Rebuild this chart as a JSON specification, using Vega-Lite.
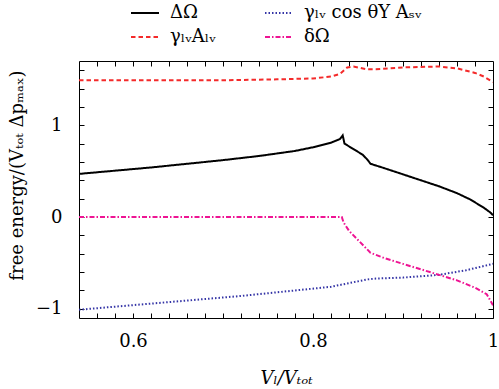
{
  "$schema": "https://vega.github.io/schema/vega-lite/v6.json",
  "width": 414,
  "height": 257,
  "autosize": {"type": "none"},
  "padding": {"left": 79, "top": 61, "right": 6, "bottom": 71},
  "background": "white",
  "config": {
    "view": {"stroke": "black", "strokeWidth": 1},
    "font": "DejaVu Serif",
    "axis": {"grid": false, "domainColor": "black", "labelColor": "black", "titleColor": "black", "labelFont": "DejaVu Serif", "titleFont": "DejaVu Serif", "labelFontSize": 18, "titleFontSize": 18, "titleFontWeight": "normal"}
  },
  "data": {"values": [
    {"x": 0.54, "y": 0.47, "s": "ΔΩ"},
    {"x": 0.58, "y": 0.505, "s": "ΔΩ"},
    {"x": 0.62, "y": 0.54, "s": "ΔΩ"},
    {"x": 0.66, "y": 0.58, "s": "ΔΩ"},
    {"x": 0.70, "y": 0.62, "s": "ΔΩ"},
    {"x": 0.74, "y": 0.665, "s": "ΔΩ"},
    {"x": 0.78, "y": 0.72, "s": "ΔΩ"},
    {"x": 0.80, "y": 0.76, "s": "ΔΩ"},
    {"x": 0.82, "y": 0.81, "s": "ΔΩ"},
    {"x": 0.83, "y": 0.85, "s": "ΔΩ"},
    {"x": 0.833, "y": 0.89, "s": "ΔΩ"},
    {"x": 0.835, "y": 0.80, "s": "ΔΩ"},
    {"x": 0.845, "y": 0.74, "s": "ΔΩ"},
    {"x": 0.855, "y": 0.68, "s": "ΔΩ"},
    {"x": 0.86, "y": 0.63, "s": "ΔΩ"},
    {"x": 0.864, "y": 0.58, "s": "ΔΩ"},
    {"x": 0.88, "y": 0.53, "s": "ΔΩ"},
    {"x": 0.90, "y": 0.465, "s": "ΔΩ"},
    {"x": 0.92, "y": 0.40, "s": "ΔΩ"},
    {"x": 0.94, "y": 0.335, "s": "ΔΩ"},
    {"x": 0.96, "y": 0.26, "s": "ΔΩ"},
    {"x": 0.975, "y": 0.19, "s": "ΔΩ"},
    {"x": 0.99, "y": 0.10, "s": "ΔΩ"},
    {"x": 0.997, "y": 0.05, "s": "ΔΩ"},
    {"x": 1.0, "y": 0.02, "s": "ΔΩ"},

    {"x": 0.54, "y": 1.49, "s": "γₗᵥAₗᵥ"},
    {"x": 0.70, "y": 1.49, "s": "γₗᵥAₗᵥ"},
    {"x": 0.76, "y": 1.50, "s": "γₗᵥAₗᵥ"},
    {"x": 0.80, "y": 1.51, "s": "γₗᵥAₗᵥ"},
    {"x": 0.82, "y": 1.53, "s": "γₗᵥAₗᵥ"},
    {"x": 0.83, "y": 1.56, "s": "γₗᵥAₗᵥ"},
    {"x": 0.838, "y": 1.63, "s": "γₗᵥAₗᵥ"},
    {"x": 0.845, "y": 1.64, "s": "γₗᵥAₗᵥ"},
    {"x": 0.86, "y": 1.61, "s": "γₗᵥAₗᵥ"},
    {"x": 0.87, "y": 1.61, "s": "γₗᵥAₗᵥ"},
    {"x": 0.90, "y": 1.63, "s": "γₗᵥAₗᵥ"},
    {"x": 0.94, "y": 1.64, "s": "γₗᵥAₗᵥ"},
    {"x": 0.96, "y": 1.62, "s": "γₗᵥAₗᵥ"},
    {"x": 0.98, "y": 1.57, "s": "γₗᵥAₗᵥ"},
    {"x": 0.99, "y": 1.53, "s": "γₗᵥAₗᵥ"},
    {"x": 1.0, "y": 1.47, "s": "γₗᵥAₗᵥ"},

    {"x": 0.54, "y": -1.01, "s": "γₗᵥ cos θY Aₛᵥ"},
    {"x": 0.60, "y": -0.96, "s": "γₗᵥ cos θY Aₛᵥ"},
    {"x": 0.66, "y": -0.91, "s": "γₗᵥ cos θY Aₛᵥ"},
    {"x": 0.72, "y": -0.86, "s": "γₗᵥ cos θY Aₛᵥ"},
    {"x": 0.78, "y": -0.80, "s": "γₗᵥ cos θY Aₛᵥ"},
    {"x": 0.82, "y": -0.76, "s": "γₗᵥ cos θY Aₛᵥ"},
    {"x": 0.84, "y": -0.72, "s": "γₗᵥ cos θY Aₛᵥ"},
    {"x": 0.86, "y": -0.68, "s": "γₗᵥ cos θY Aₛᵥ"},
    {"x": 0.87, "y": -0.67, "s": "γₗᵥ cos θY Aₛᵥ"},
    {"x": 0.90, "y": -0.66, "s": "γₗᵥ cos θY Aₛᵥ"},
    {"x": 0.94, "y": -0.63, "s": "γₗᵥ cos θY Aₛᵥ"},
    {"x": 0.97, "y": -0.58, "s": "γₗᵥ cos θY Aₛᵥ"},
    {"x": 1.0, "y": -0.51, "s": "γₗᵥ cos θY Aₛᵥ"},

    {"x": 0.54, "y": 0.0, "s": "δΩ"},
    {"x": 0.832, "y": 0.0, "s": "δΩ"},
    {"x": 0.834, "y": -0.06, "s": "δΩ"},
    {"x": 0.84, "y": -0.15, "s": "δΩ"},
    {"x": 0.85, "y": -0.25, "s": "δΩ"},
    {"x": 0.86, "y": -0.35, "s": "δΩ"},
    {"x": 0.864, "y": -0.39, "s": "δΩ"},
    {"x": 0.88, "y": -0.45, "s": "δΩ"},
    {"x": 0.90, "y": -0.51, "s": "δΩ"},
    {"x": 0.92, "y": -0.57, "s": "δΩ"},
    {"x": 0.94, "y": -0.63, "s": "δΩ"},
    {"x": 0.96, "y": -0.69, "s": "δΩ"},
    {"x": 0.98, "y": -0.77, "s": "δΩ"},
    {"x": 0.993, "y": -0.84, "s": "δΩ"},
    {"x": 1.0, "y": -0.96, "s": "δΩ"}
  ]},
  "resolve": {"axis": {"x": "independent", "y": "independent"}},
  "layer": [
    {
      "mark": {"type": "line", "strokeWidth": 2, "clip": true},
      "encoding": {
        "x": {"field": "x", "type": "quantitative", "scale": {"domain": [0.54, 1.0], "nice": false, "zero": false},
          "axis": {"orient": "bottom", "offset": -5, "title": "Vₗ/Vₜₒₜ", "titleFontStyle": "italic", "titlePadding": 19, "values": [0.56,0.58,0.6,0.62,0.64,0.66,0.68,0.7,0.72,0.74,0.76,0.78,0.8,0.82,0.84,0.86,0.88,0.9,0.92,0.94,0.96,0.98,1.0], "labelExpr": "datum.value == 0.6 ? '0.6' : datum.value == 0.8 ? '0.8' : datum.value == 1 ? '1' : ''", "ticks": true, "tickSize": 5, "tickColor": "black", "tickWidth": 1, "labelPadding": 14, "domain": false, "labelFlush": false, "labelOverlap": false}},
        "y": {"field": "y", "type": "quantitative", "scale": {"domain": [-1.1, 1.7], "nice": false, "zero": false},
          "axis": {"orient": "left", "offset": -5, "title": "free energy/(Vₜₒₜ Δpₘₐₓ)", "titleY": 114, "titleX": -62, "titleBaseline": "alphabetic", "titleAngle": -90, "values": [-1,-0.8,-0.6,-0.4,-0.2,0,0.2,0.4,0.6,0.8,1,1.2,1.4,1.6], "labelExpr": "datum.value == -1 ? '−1' : datum.value == 0 ? '0' : datum.value == 1 ? '1' : ''", "ticks": true, "tickSize": 5, "tickColor": "black", "tickWidth": 1, "labelPadding": 17, "domain": false, "labelFlush": false, "labelOverlap": false}},
        "color": {"field": "s", "type": "nominal", "sort": null,
          "scale": {"domain": ["ΔΩ", "γₗᵥAₗᵥ", "γₗᵥ cos θY Aₛᵥ", "δΩ"], "range": ["#000000", "#f42a2a", "#3434a6", "#ee1493"]},
          "legend": {"title": null, "orient": "none", "legendX": 51, "legendY": -63, "columns": 2, "symbolType": "stroke", "symbolSize": 784, "symbolStrokeWidth": 2, "labelFontSize": 18, "labelFont": "DejaVu Serif", "labelColor": "black", "labelOffset": 10, "columnPadding": 45, "rowPadding": 0, "padding": 0, "labelLimit": 300}},
        "strokeDash": {"field": "s", "type": "nominal", "sort": null,
          "scale": {"domain": ["ΔΩ", "γₗᵥAₗᵥ", "γₗᵥ cos θY Aₛᵥ", "δΩ"], "range": [[1,0],[4.5,3],[1.5,2],[5,2,1.5,2]]},
          "legend": {"title": null, "orient": "none", "legendX": 51, "legendY": -63, "columns": 2, "symbolType": "stroke", "symbolSize": 784, "symbolStrokeWidth": 2, "labelFontSize": 18, "labelFont": "DejaVu Serif", "labelColor": "black", "labelOffset": 10, "columnPadding": 45, "rowPadding": 0, "padding": 0, "labelLimit": 300}}
      }
    },
    {
      "mark": {"type": "line", "opacity": 0},
      "encoding": {
        "x": {"field": "x", "type": "quantitative",
          "axis": {"orient": "top", "offset": -5, "title": null, "values": [0.56,0.58,0.6,0.62,0.64,0.66,0.68,0.7,0.72,0.74,0.76,0.78,0.8,0.82,0.84,0.86,0.88,0.9,0.92,0.94,0.96,0.98], "labels": false, "ticks": true, "tickSize": 5, "tickColor": "black", "tickWidth": 1, "domain": false}},
        "y": {"field": "y", "type": "quantitative",
          "axis": {"orient": "right", "offset": -5, "title": null, "values": [-1,-0.8,-0.6,-0.4,-0.2,0,0.2,0.4,0.6,0.8,1,1.2,1.4,1.6], "labels": false, "ticks": true, "tickSize": 5, "tickColor": "black", "tickWidth": 1, "domain": false}},
        "detail": {"field": "s"}
      }
    }
  ]
}
